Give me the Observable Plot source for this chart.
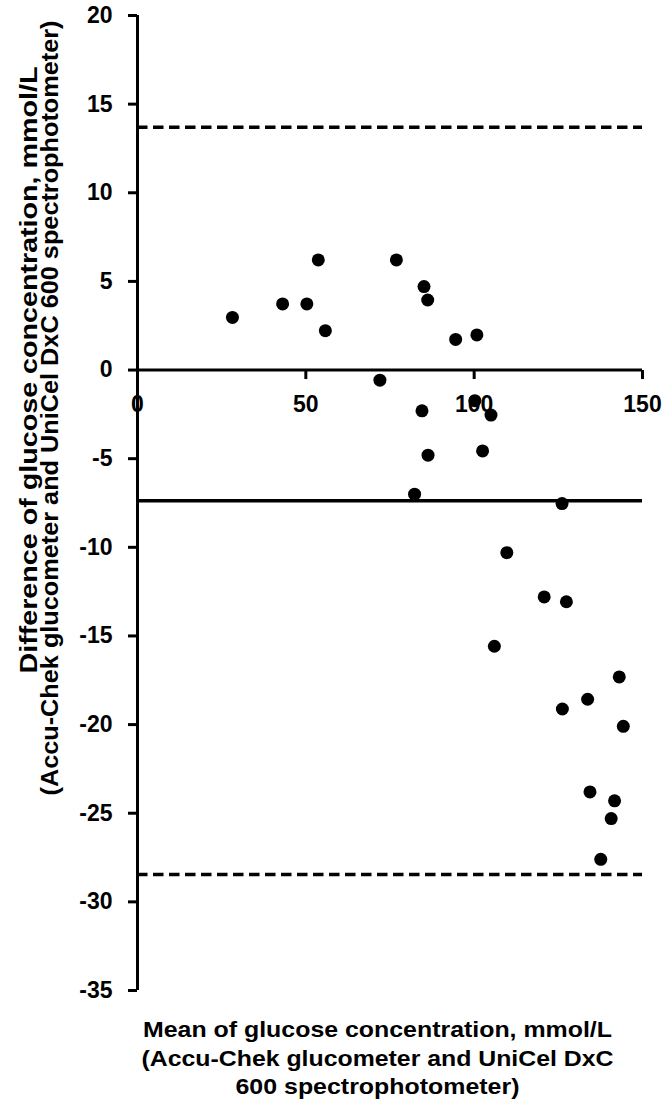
<!DOCTYPE html>
<html>
<head>
<meta charset="utf-8">
<script src="https://cdn.jsdelivr.net/npm/d3@7"></script>
<script src="https://cdn.jsdelivr.net/npm/@observablehq/plot@0.6"></script>
<style>
  html, body { margin: 0; padding: 0; background: #fff; }
  #chart svg { display: block; }
</style>
</head>
<body>
<div id="chart"></div>
<script>
// Mean of the two methods (x) and their difference (y)
const meanValues = [28.2, 43.1, 50.3, 53.7, 55.8, 76.9, 85.1, 86.2, 94.5, 100.8,
                    72.0, 84.5, 100.2, 105.0, 86.3, 102.5, 82.3, 126.1, 109.7, 120.8,
                    127.4, 106.0, 143.1, 133.7, 126.2, 144.3, 134.4, 141.7, 140.7, 137.6];
const diffValues = [2.97, 3.73, 3.73, 6.21, 2.22, 6.21, 4.71, 3.95, 1.73, 1.98,
                    -0.57, -2.30, -1.73, -2.54, -4.80, -4.56, -7.0, -7.53, -10.3, -12.8,
                    -13.07, -15.58, -17.31, -18.57, -19.12, -20.1, -23.8, -24.3, -25.3, -27.6];
const biasValue = [-7.38];
const limitValues = [13.7, -28.46];
const xTicks = [0, 50, 100, 150];
const yTicks = [20, 15, 10, 5, 0, -5, -10, -15, -20, -25, -30, -35];
const xTitleLines = [
  "Mean of glucose concentration, mmol/L",
  "(Accu-Chek glucometer and UniCel DxC",
  "600 spectrophotometer)"
];
const yTitleLines = [
  "Difference of glucose concentration, mmol/L",
  "(Accu-Chek glucometer and UniCel DxC 600 spectrophotometer)"
];

const points = meanValues.map((m, i) => ({mean: m, diff: diffValues[i]}));
const font = "'Liberation Sans', Arial, Helvetica, sans-serif";
const tickDown = {draw(context) { context.moveTo(0, 0); context.lineTo(0, 9); }};

// rendered text widths (px) of the title lines in the original figure
const xTitleWidths = [469, 472, 284];
const yTitleWidths = [607, 775];
const yTitleOffsets = [{dx: -108.5, dy: -133}, {dx: -87.5, dy: -95}];

const chart = Plot.plot({
  width: 668,
  height: 1117,
  marginLeft: 137,
  marginRight: 26,
  marginTop: 15,
  marginBottom: 127,
  style: {fontFamily: font, background: "white", color: "black", overflow: "visible"},
  x: {domain: [0, 150], axis: null},
  y: {domain: [-35, 20]},
  marks: [
    Plot.ruleY(limitValues, {stroke: "black", strokeWidth: 3.5, strokeDasharray: "10.5,5.5"}),
    Plot.ruleY(biasValue, {stroke: "black", strokeWidth: 3.5}),
    Plot.ruleY([0], {stroke: "black", strokeWidth: 3}),
    Plot.ruleX([0], {y1: yTicks[yTicks.length - 1], y2: yTicks[0], stroke: "black", strokeWidth: 3}),
    Plot.axisY(yTicks, {
      anchor: "left", tickSize: 9, tickPadding: 16, strokeWidth: 3,
      fontSize: 23, fontWeight: "bold", label: null, tickFormat: d => String(d)
    }),
    Plot.dot(xTicks, {x: d => d, y: () => 0, symbol: tickDown, fill: "none", stroke: "black", strokeWidth: 3, r: 1}),
    Plot.text(xTicks, {x: d => d, y: () => 0, text: d => String(d), dy: 34.5, fontSize: 23, fontWeight: "bold"}),
    Plot.dot(points, {x: "mean", y: "diff", r: 6.5, fill: "black", stroke: null}),
    ...xTitleLines.map((line, i) => Plot.text([line], {
      text: d => d, frameAnchor: "bottom", textAnchor: "middle", lineAnchor: "top",
      dx: -12.5, dy: 31 + i * 28.5, fontSize: 22, fontWeight: "bold"
    })),
    ...yTitleLines.map((line, i) => Plot.text([line], {
      text: d => d, frameAnchor: "left", rotate: -90, textAnchor: "middle", lineAnchor: "middle",
      dx: yTitleOffsets[i].dx, dy: yTitleOffsets[i].dy, fontSize: 24, fontWeight: "bold"
    }))
  ]
});

// widen the title lines to the widths they have in the original figure
const widthByLine = new Map();
xTitleLines.forEach((l, i) => widthByLine.set(l, xTitleWidths[i]));
yTitleLines.forEach((l, i) => widthByLine.set(l, yTitleWidths[i]));
chart.querySelectorAll("text").forEach(t => {
  const w = widthByLine.get(t.textContent.trim());
  if (w !== undefined) {
    t.setAttribute("textLength", w);
    t.setAttribute("lengthAdjust", "spacingAndGlyphs");
  }
});

document.getElementById("chart").append(chart);
</script>
</body>
</html>
